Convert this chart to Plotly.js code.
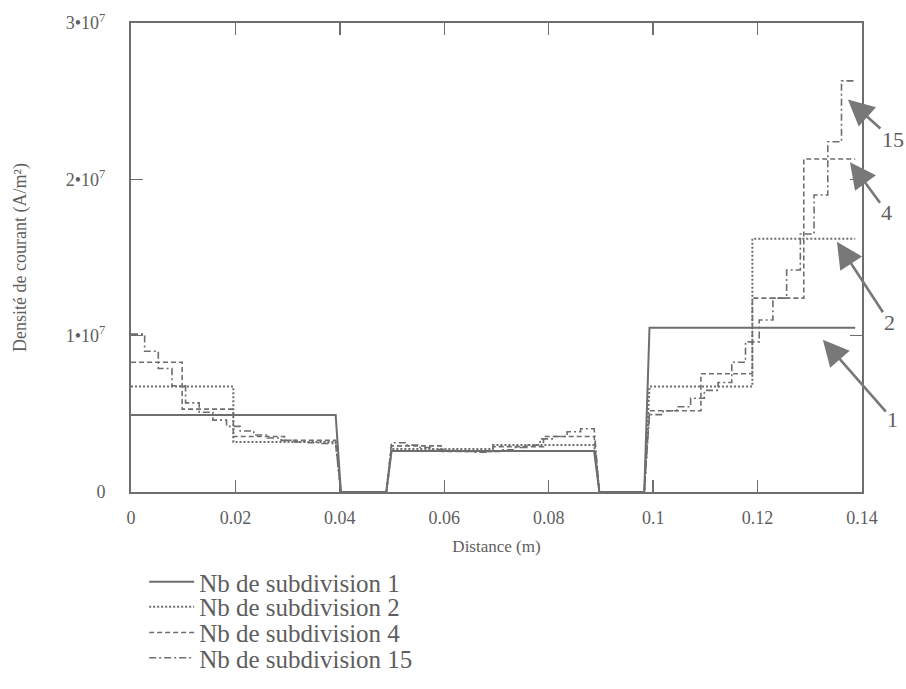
<!DOCTYPE html>
<html>
<head>
<meta charset="utf-8">
<script src="https://cdn.plot.ly/plotly-3.0.1.min.js"></script>
<style>html,body{margin:0;padding:0;background:#fff;}#chart{width:906px;height:689px;}</style>
</head>
<body>
<div id="chart"></div>
<script>
// Conductor regions along the distance axis (m): [start, end]
const regionStart = [0, 0.0499, 0.0993];
const regionEnd = [0.0392, 0.0887, 0.1387];
const rampWidth = 0.0010; // distance over which density falls to zero at a conductor edge

// Current density values (A/m^2), step values per region
const sub1 = [[4.92e6], [2.62e6], [1.05e7]];
const sub2 = [[6.75e6, 3.2e6], [2.75e6, 3.0e6], [6.75e6, 1.62e7]];
const sub4 = [[8.3e6, 5.3e6, 3.55e6, 3.3e6], [2.95e6, 2.6e6, 2.9e6, 3.55e6], [5.2e6, 7.56e6, 1.24e7, 2.13e7]];
const sub15 = [
  [1.01e7, 9.0e6, 7.9e6, 6.8e6, 5.7e6, 5.1e6, 4.6e6, 4.2e6, 3.9e6, 3.65e6, 3.45e6, 3.3e6, 3.2e6, 3.15e6, 3.1e6],
  [3.15e6, 3.0e6, 2.85e6, 2.72e6, 2.65e6, 2.6e6, 2.55e6, 2.6e6, 2.7e6, 2.85e6, 3.0e6, 3.4e6, 3.55e6, 3.85e6, 4.05e6],
  [4.95e6, 5.2e6, 5.45e6, 6.0e6, 6.5e6, 7.0e6, 8.3e6, 9.6e6, 1.1e7, 1.24e7, 1.42e7, 1.65e7, 1.9e7, 2.24e7, 2.63e7]
];

const seriesNames = ['Nb de subdivision 1', 'Nb de subdivision 2', 'Nb de subdivision 4', 'Nb de subdivision 15'];
const seriesValues = [sub1, sub2, sub4, sub15];

// Axis ticks
const xTickVals = [0, 0.02, 0.04, 0.06, 0.08, 0.1, 0.12, 0.14];
const xTickText = ['0', '0.02', '0.04', '0.06', '0.08', '0.1', '0.12', '0.14'];
const yTickVals = [0, 1e7, 2e7, 3e7];
const yTickText = ['0', '1•10<sup>7</sup>', '2•10<sup>7</sup>', '3•10<sup>7</sup>'];

// Arrow labels
const arrowLabels = ['15', '4', '2', '1'];
const arrowTipX = [0.1373, 0.1377, 0.1352, 0.1325];
const arrowTipY = [2.51e7, 2.11e7, 1.60e7, 9.74e6];

function buildSteps(values) {
  const xs = [], ys = [];
  const nR = values.length;
  for (let r = 0; r < nR; r++) {
    const a = regionStart[r], b = regionEnd[r];
    const vals = values[r];
    const w = (b - a) / vals.length;
    if (r > 0) { xs.push(a - rampWidth); ys.push(0); }
    for (let k = 0; k < vals.length; k++) {
      xs.push(a + k * w); ys.push(vals[k]);
      xs.push(a + (k + 1) * w); ys.push(vals[k]);
    }
    if (r < nR - 1) { xs.push(b + rampWidth); ys.push(0); }
  }
  return {xs, ys};
}

const lineColor = '#6e6e6e';
const textColor = '#5e5e5e';
const dashes = ['solid', '2px,2px', '5px,3px', '7px,3px,2px,3px'];
const widths = [2, 2, 1.6, 1.6];
const legendIds = ['legend', 'legend2', 'legend3', 'legend4'];
const legendRowY = [-0.192, -0.245, -0.300, -0.354];

const traces = seriesValues.map((v, i) => {
  const s = buildSteps(v);
  return {
    x: s.xs, y: s.ys, type: 'scatter', mode: 'lines', name: seriesNames[i],
    line: {color: lineColor, width: widths[i], dash: dashes[i]},
    legend: legendIds[i], showlegend: true, hoverinfo: 'x+y'
  };
});

const serif = '"Liberation Serif", "Times New Roman", serif';
const layout = {
  width: 906, height: 689,
  showlegend: true,
  margin: {l: 131, r: 44, t: 23, b: 197, autoexpand: false},
  paper_bgcolor: '#fff', plot_bgcolor: '#fff',
  font: {family: serif, color: textColor},
  xaxis: {
    range: [0, 0.14], tickvals: xTickVals, ticktext: xTickText,
    ticks: 'inside', ticklen: 12, tickwidth: 1.5, tickcolor: lineColor,
    showline: true, linecolor: lineColor, linewidth: 2, mirror: 'ticks',
    showgrid: false, zeroline: false, ticklabelstandoff: 8,
    tickfont: {family: serif, size: 18, color: textColor},
    title: {text: 'Distance (m)', font: {family: serif, size: 17, color: textColor}, standoff: 14}
  },
  yaxis: {
    range: [0, 3e7], tickvals: yTickVals, ticktext: yTickText,
    ticks: 'inside', ticklen: 12, tickwidth: 1.5, tickcolor: lineColor,
    showline: true, linecolor: lineColor, linewidth: 2, mirror: 'ticks',
    showgrid: false, zeroline: false, ticklabelstandoff: 20,
    tickfont: {family: serif, size: 18, color: textColor},
    title: {text: 'Densité de courant (A/m²)', font: {family: serif, size: 18, color: textColor}, standoff: 34}
  },
  annotations: arrowLabels.map((t, i) => ({
    x: arrowTipX[i], y: arrowTipY[i], xref: 'x', yref: 'y',
    text: t, showarrow: true, arrowhead: 2, arrowsize: 2, arrowwidth: 2.6,
    arrowcolor: '#787878', ax: [45, 37, 53, 70][i], ay: [40, 50, 81, 80][i],
    font: {family: serif, size: 22, color: textColor}
  }))
};
legendIds.forEach((id, i) => {
  layout[id] = {
    x: 0.018, y: legendRowY[i], xanchor: 'left', yanchor: 'middle',
    bgcolor: 'rgba(0,0,0,0)', borderwidth: 0, itemwidth: 45,
    font: {family: serif, size: 25, color: textColor}
  };
});

Plotly.newPlot('chart', traces, layout, {staticPlot: true, displayModeBar: false});
</script>
</body>
</html>
